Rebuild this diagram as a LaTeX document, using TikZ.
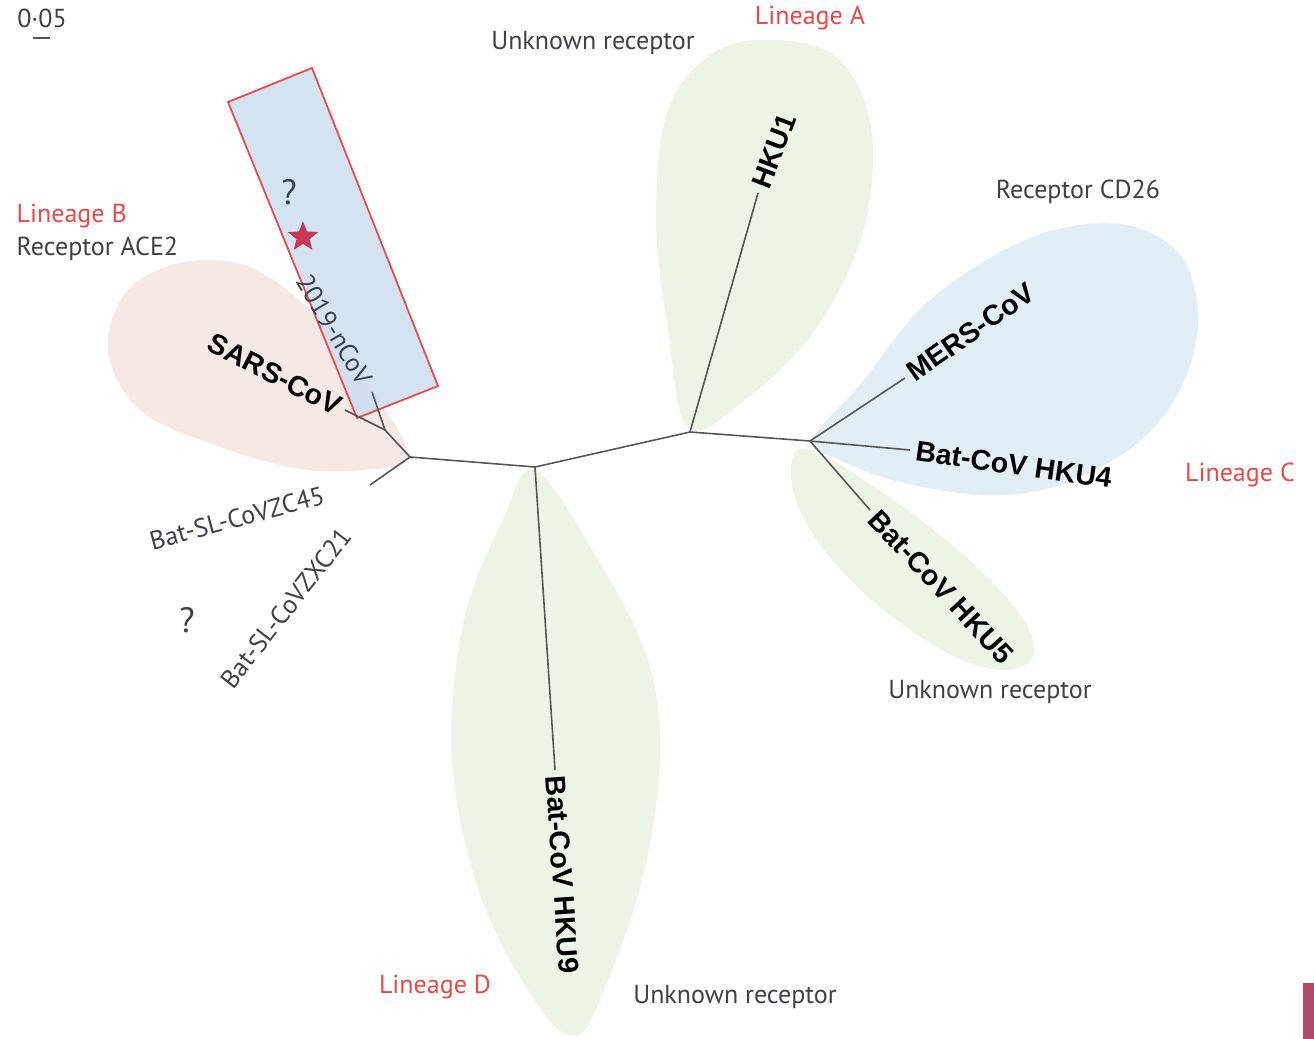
\documentclass[tikz,border=0pt]{standalone}
\usepackage{fontspec}
\setmainfont{PT Sans}
\newfontfamily\taxonfont{Liberation Sans}
\usetikzlibrary{shapes.geometric,positioning}
\definecolor{LineageRed}{RGB}{236,72,72}
\definecolor{TextGray}{RGB}{62,64,74}
\definecolor{BranchGray}{RGB}{85,85,85}
\definecolor{BlobGreen}{RGB}{236,244,229}
\definecolor{BlobBlue}{RGB}{226,238,245}
\definecolor{BlobPink}{RGB}{246,232,228}
\definecolor{BoxBlue}{RGB}{204,222,240}
\definecolor{StarRed}{RGB}{198,56,86}
\definecolor{TabMagenta}{RGB}{172,74,104}
\tikzset{
  branch/.style={draw=BranchGray, line width=0.45pt},
  taxon/.style={font=\taxonfont\bfseries\fontsize{8.1}{9}\selectfont, text=black, inner sep=1.5pt},
  plain/.style={font=\fontsize{7.4}{9}\selectfont, text=TextGray, inner sep=0pt},
  query/.style={font=\fontsize{10}{11}\selectfont, text=TextGray, inner sep=0pt},
  lineage/.style={font=\fontsize{7.4}{9}\selectfont, text=LineageRed, inner sep=0pt},
}
\begin{document}
\begin{tikzpicture}[x=0.01cm, y=-0.01cm]
\useasboundingbox (0,0) rectangle (1314,1039);

% clade shading
\fill[BlobGreen] plot[smooth cycle, tension=0.6] coordinates {
  (688,428) (668,330) (656,220) (668,110) (715,52) (780,40) (842,62) (872,135) (862,235) (815,330) (745,400)};
\fill[BlobBlue] plot[smooth cycle, tension=0.6] coordinates {
  (812,440) (860,385) (930,300) (1030,238) (1120,224) (1180,255) (1198,320) (1180,390) (1135,445) (1060,485) (985,495) (900,482) (840,460)};
\fill[BlobGreen] plot[smooth cycle, tension=0.6] coordinates {
  (797,450) (835,462) (910,512) (980,570) (1025,622) (1032,658) (998,670) (942,650) (872,600) (818,542) (793,490)};
\fill[BlobPink] plot[smooth cycle, tension=0.6] coordinates {
  (408,456) (362,470) (295,468) (215,445) (140,410) (108,350) (128,290) (185,262) (252,268) (318,318) (372,390)};
\fill[BlobGreen] plot[smooth cycle, tension=0.6] coordinates {
  (535,470) (598,560) (648,660) (660,760) (642,880) (606,985) (578,1035) (540,1008) (482,900) (452,760) (464,620) (503,520)};

% 2019-nCoV box
\filldraw[fill=BoxBlue, fill opacity=0.85, draw=LineageRed, line width=0.5pt]
  (228,102) -- (312,68) -- (438,386) -- (357,418) -- cycle;

% tree
\coordinate (hubB) at (410,457);
\coordinate (hubD) at (535,467);
\coordinate (hubA) at (690,432);
\coordinate (hubC) at (810,441);
\coordinate (hubSars) at (385,430);
\coordinate (tipSars) at (345,410);
\coordinate (tipNcov) at (372,392);
\coordinate (tipZC) at (370,485);
\coordinate (tipHKU1) at (758,193);
\coordinate (tipHKU9) at (555,770);
\coordinate (tipMERS) at (905,378);
\coordinate (tipHKU4) at (910,450);
\coordinate (tipHKU5) at (870,510);

\draw[branch] (hubB) -- (hubD) -- (hubA) -- (hubC);
\draw[branch] (hubB) -- (hubSars) -- (tipSars);
\draw[branch] (hubSars) -- (tipNcov);
\draw[branch] (hubB) -- (tipZC);
\draw[branch] (hubA) -- (tipHKU1);
\draw[branch] (hubD) -- (tipHKU9);
\draw[branch] (hubC) -- (tipMERS);
\draw[branch] (hubC) -- (tipHKU4);
\draw[branch] (hubC) -- (tipHKU5);

% taxa
\node[taxon, rotate=69, anchor=west] (hku1) at (tipHKU1) {HKU1};
\node[taxon, rotate=35, anchor=west] (mers) at (tipMERS) {MERS-CoV};
\node[taxon, rotate=-8, anchor=west] (hku4) at (tipHKU4) {Bat-CoV HKU4};
\node[taxon, rotate=-47, anchor=west] (hku5) at (tipHKU5) {Bat-CoV HKU5};
\node[taxon, rotate=-86, anchor=west] (hku9) at (tipHKU9) {Bat-CoV HKU9};
\node[taxon, rotate=-27, anchor=east] (sars) at (tipSars) {SARS-CoV};
\node[plain, rotate=-59, anchor=east, inner sep=3pt] (ncov) at (tipNcov) {2019-nCoV};
\node[plain, rotate=15] (zc45) at (237,518) {Bat-SL-CoVZC45};
\node[plain, rotate=52] (zxc21) at (286,608) {Bat-SL-CoVZXC21};
\node[query] (qzx) at (187,620) {?};
\node[query] (qncov) at (289,192) {?};
\node[star, star points=5, star point ratio=2.3, fill=StarRed, inner sep=0pt, minimum size=9pt] (novel) at (303,237) {};

% receptors and lineages
\node[lineage] (linA) at (810,18) {Lineage A};
\node[plain] (recA) at (593,43) {Unknown receptor};
\node[plain] (recC) at (1078,192) {Receptor CD26};
\node[lineage] (linC) at (1240,475) {Lineage C};
\node[plain] (recC5) at (990,692) {Unknown receptor};
\node[lineage, anchor=west] (linB) at (16,216) {Lineage B};
\node[plain, anchor=west] (recB) at (16,249) {Receptor ACE2};
\node[lineage] (linD) at (435,987) {Lineage D};
\node[plain] (recD) at (735,997) {Unknown receptor};

% scale
\node[plain] (scale) at (42,18) {0·05};
\draw[BranchGray, line width=0.6pt] (33,38) -- (50,38);

\fill[TabMagenta] (1303,983) rectangle (1314,1039);
\end{tikzpicture}
\end{document}
